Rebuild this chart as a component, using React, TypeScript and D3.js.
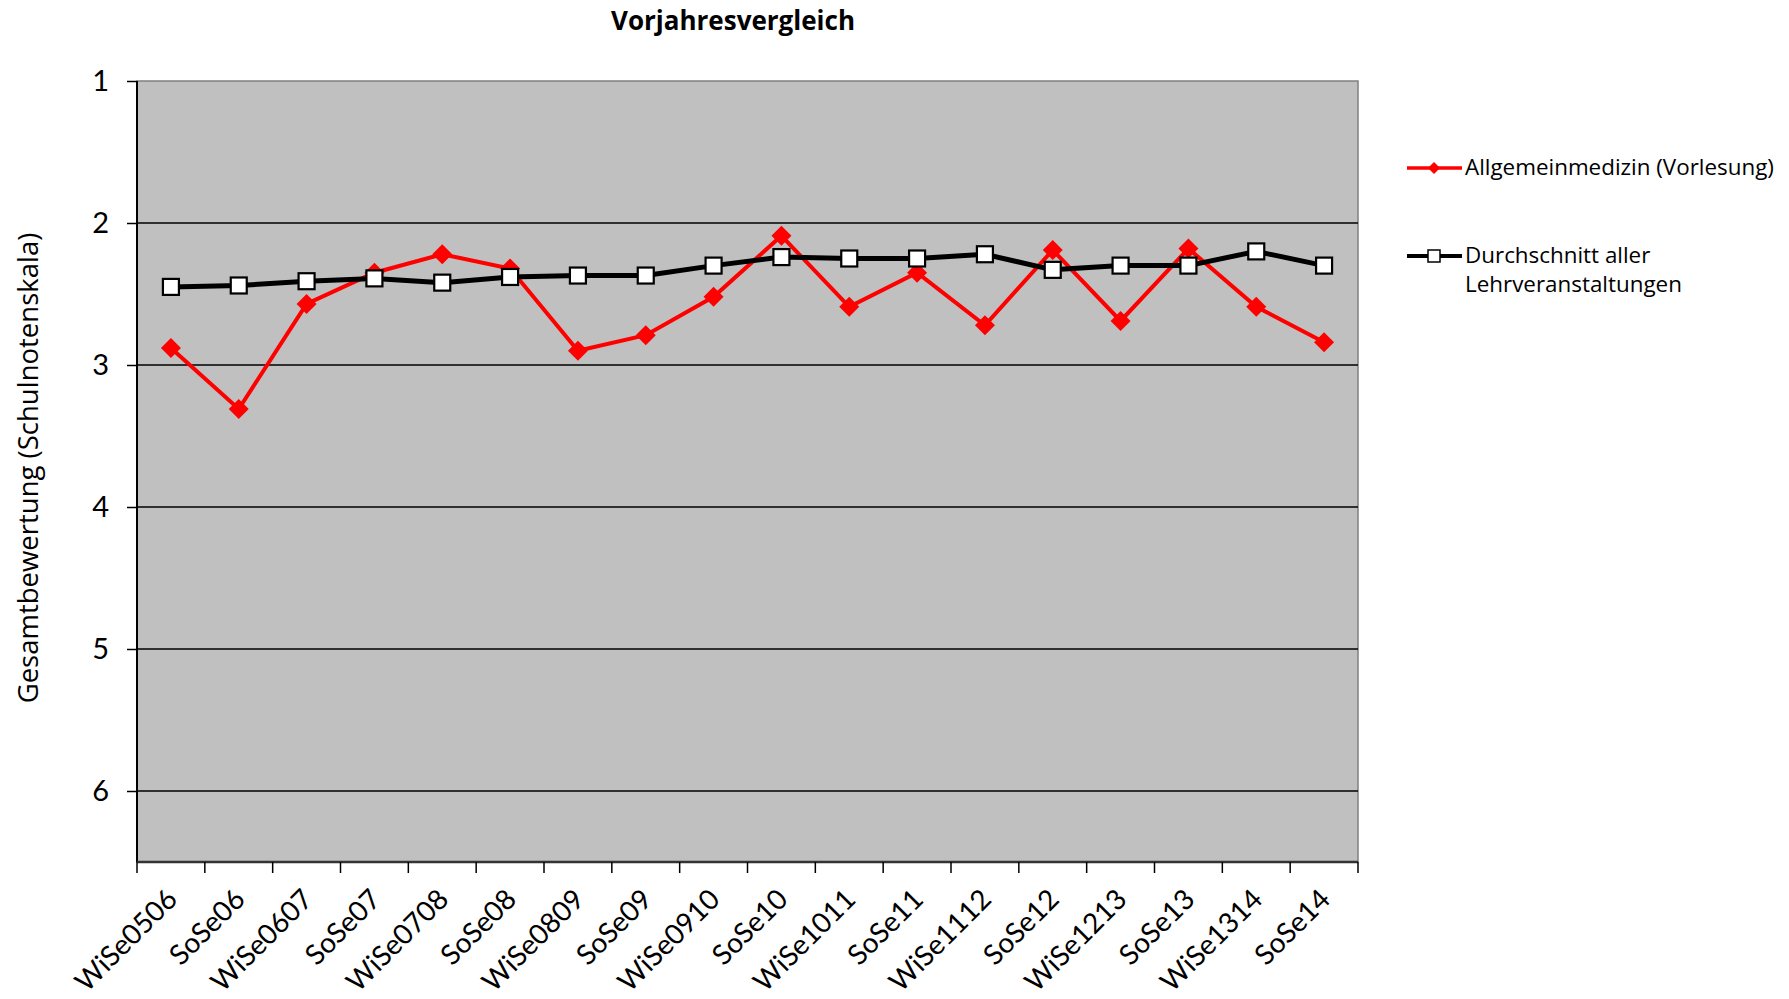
import React, { useEffect, useRef } from 'react';
import * as d3 from 'd3';

const semesters = [
  'WiSe0506', 'SoSe06', 'WiSe0607', 'SoSe07', 'WiSe0708', 'SoSe08',
  'WiSe0809', 'SoSe09', 'WiSe0910', 'SoSe10', 'WiSe1011', 'SoSe11',
  'WiSe1112', 'SoSe12', 'WiSe1213', 'SoSe13', 'WiSe1314', 'SoSe14',
];
const allgemeinmedizin = [
  2.88, 3.31, 2.57, 2.35, 2.22, 2.32, 2.90, 2.79, 2.52, 2.09, 2.59, 2.35,
  2.72, 2.19, 2.69, 2.18, 2.59, 2.84,
];
const durchschnitt = [
  2.45, 2.44, 2.41, 2.39, 2.42, 2.38, 2.37, 2.37, 2.30, 2.24, 2.25, 2.25,
  2.22, 2.33, 2.30, 2.30, 2.20, 2.30,
];
const yTicks = [1, 2, 3, 4, 5, 6];
const yDomain = [1, 6.5];
const chartTitle = 'Vorjahresvergleich';
const yTitle = 'Gesamtbewertung (Schulnotenskala)';
const legendRed = ['Allgemeinmedizin (Vorlesung)'];
const legendBlack = ['Durchschnitt aller', 'Lehrveranstaltungen'];

const W = 1789;
const H = 999;
const FONT = 'Lato, "Open Sans", sans-serif';
const FONT2 = '"Open Sans", Lato, sans-serif';

export default function App() {
  const ref = useRef<SVGSVGElement>(null);

  useEffect(() => {
    const svg = d3.select(ref.current);
    svg.selectAll('*').remove();

    const left = 137, right = 1358, top = 81, bottom = 862;
    const x = d3.scaleBand<string>().domain(semesters).range([left, right]).padding(0);
    const y = d3.scaleLinear().domain(yDomain).range([top, bottom]);
    const cx = (d: string) => (x(d) as number) + x.bandwidth() / 2;

    // plot area
    svg.append('rect')
      .attr('x', left).attr('y', top)
      .attr('width', right - left).attr('height', bottom - top)
      .attr('fill', '#C0C0C0')
      .attr('stroke', '#808080').attr('stroke-width', 1.5);

    // gridlines
    svg.append('g').selectAll('line')
      .data(yTicks.filter((t) => t !== 1))
      .join('line')
      .attr('x1', left).attr('x2', right)
      .attr('y1', (d) => y(d)).attr('y2', (d) => y(d))
      .attr('stroke', '#000').attr('stroke-width', 1.5);

    // y axis
    const yAxis = d3.axisLeft(y).tickValues(yTicks).tickSize(10).tickPadding(18)
      .tickFormat((d) => String(d));
    const gy = svg.append('g').attr('transform', `translate(${left},0)`).call(yAxis);
    gy.select('.domain').attr('stroke', '#000').attr('stroke-width', 2)
      .attr('d', `M0,${top}V${bottom}`);
    gy.selectAll('.tick line').attr('stroke', '#000').attr('stroke-width', 1.5);
    gy.selectAll('.tick text')
      .attr('font-family', FONT).attr('font-size', 29).attr('fill', '#000');

    // x axis line and ticks at band boundaries
    svg.append('line')
      .attr('x1', left).attr('x2', right).attr('y1', bottom).attr('y2', bottom)
      .attr('stroke', '#333').attr('stroke-width', 2.5);
    const bounds = semesters.map((s) => x(s) as number).concat([right]);
    svg.append('g').selectAll('line').data(bounds).join('line')
      .attr('x1', (d) => d).attr('x2', (d) => d)
      .attr('y1', bottom).attr('y2', bottom + 11)
      .attr('stroke', '#000').attr('stroke-width', 1.5);
    svg.append('g').selectAll('text').data(semesters).join('text')
      .attr('transform', (d) => `translate(${cx(d) + 8},${bottom + 39}) rotate(-45)`)
      .attr('text-anchor', 'end')
      .attr('font-family', FONT).attr('font-size', 28).attr('fill', '#000')
      .text((d) => d);

    // lines
    const line = d3.line<number>()
      .x((_, i) => cx(semesters[i]))
      .y((v) => y(v));

    svg.append('path').datum(allgemeinmedizin)
      .attr('d', line).attr('fill', 'none')
      .attr('stroke', '#FF0000').attr('stroke-width', 4).attr('stroke-linejoin', 'miter');
    svg.append('path').datum(durchschnitt)
      .attr('d', line).attr('fill', 'none')
      .attr('stroke', '#000').attr('stroke-width', 5).attr('stroke-linejoin', 'round');

    // red diamonds
    const dia = (r: number) => `M0,${-r}L${r},0L0,${r}L${-r},0Z`;
    svg.append('g').selectAll('path').data(allgemeinmedizin).join('path')
      .attr('transform', (v, i) => `translate(${cx(semesters[i])},${y(v)})`)
      .attr('d', dia(10)).attr('fill', '#FF0000');

    // white squares
    const sq = 8;
    svg.append('g').selectAll('rect').data(durchschnitt).join('rect')
      .attr('x', (_, i) => cx(semesters[i]) - sq)
      .attr('y', (v) => y(v) - sq)
      .attr('width', sq * 2).attr('height', sq * 2)
      .attr('fill', '#fff').attr('stroke', '#000').attr('stroke-width', 2.2);

    // title
    svg.append('text')
      .attr('x', 733).attr('y', 30)
      .attr('text-anchor', 'middle')
      .attr('font-family', FONT2).attr('font-weight', 'bold').attr('font-size', 26)
      .attr('fill', '#000')
      .text(chartTitle);

    // y title
    svg.append('text')
      .attr('transform', `translate(38,468) rotate(-90)`)
      .attr('text-anchor', 'middle')
      .attr('font-family', FONT2).attr('font-size', 27.5).attr('fill', '#000')
      .text(yTitle);

    // legend
    const lg = svg.append('g');
    lg.append('line').attr('x1', 1407).attr('x2', 1462).attr('y1', 168).attr('y2', 168)
      .attr('stroke', '#FF0000').attr('stroke-width', 3.5);
    lg.append('path').attr('transform', 'translate(1434,168)').attr('d', dia(6))
      .attr('fill', '#FF0000');
    lg.append('text').attr('x', 1465).attr('y', 175)
      .attr('font-family', FONT2).attr('font-size', 22.4).attr('fill', '#000')
      .text(legendRed[0]);

    lg.append('line').attr('x1', 1407).attr('x2', 1462).attr('y1', 256).attr('y2', 256)
      .attr('stroke', '#000').attr('stroke-width', 4);
    lg.append('rect').attr('x', 1428).attr('y', 250).attr('width', 12).attr('height', 12)
      .attr('fill', '#fff').attr('stroke', '#000').attr('stroke-width', 1.5);
    lg.append('g').selectAll('text').data(legendBlack).join('text')
      .attr('x', 1465).attr('y', (_, i) => 263 + i * 29)
      .attr('font-family', FONT2).attr('font-size', 22.4).attr('fill', '#000')
      .text((d) => d);
  }, []);

  return (
    <svg
      ref={ref}
      width={W}
      height={H}
      style={{ position: 'absolute', left: 0, top: 0, background: '#fff' }}
    />
  );
}
